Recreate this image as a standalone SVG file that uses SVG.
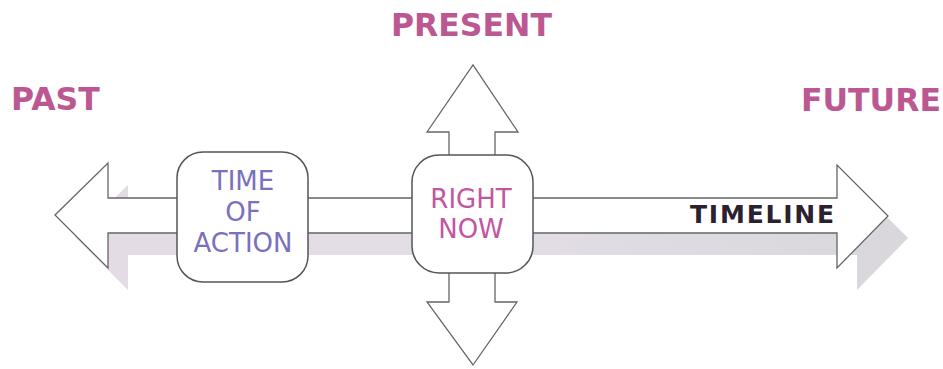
<svg xmlns="http://www.w3.org/2000/svg" width="943" height="369" viewBox="0 0 943 369">
<defs>
<style>
.title{font-family:"DejaVu Sans",Verdana,sans-serif;font-weight:bold;font-size:31.5px;fill:#bb5892}
.outline{fill:#ffffff;stroke:#666;stroke-width:1.3;stroke-linejoin:miter}
.box{fill:#ffffff;stroke:#555;stroke-width:1.5}
.lbl{font-family:"DejaVu Sans",Verdana,sans-serif;font-size:26px;text-anchor:middle}
</style>
<linearGradient id="sg" x1="0" y1="0" x2="1" y2="0">
<stop offset="0" stop-color="#e4dbe4"/>
<stop offset="0.5" stop-color="#e3dee6"/>
<stop offset="1" stop-color="#d9d6dc"/>
</linearGradient>
</defs>
<g id="titles">
<text class="title" x="11" y="110">PAST</text>
<text class="title" x="391" y="36">PRESENT</text>
<text class="title" x="801" y="111">FUTURE</text>
</g>
<g id="connectors">
<polygon id="timeline-shadow" fill="url(#sg)" points="75,237 128,185 128,220 857,220 857,187 908,238 857,290 857,255 128,255 128,290"/>
<polygon id="timeline" class="outline" points="55,215 108,163 108,198 837,198 837,165 888,216 837,268 837,233 108,233 108,268"/>
<polygon id="up-arrow" class="outline" points="449,162 449,132 427,132 473,65 518,132 495,132 495,162"/>
<polygon id="down-arrow" class="outline" points="449,266 449,302 427,302 473,365 517,302 495,302 495,266"/>
<text x="690" y="223" font-family="DejaVu Sans,Verdana,sans-serif" font-weight="bold" font-size="25" letter-spacing="1.8" fill="#2b2230">TIMELINE</text>
</g>
<g id="time-of-action">
<rect class="box" x="177" y="152" width="131" height="130" rx="26"/>
<text class="lbl" fill="#7b70bd" x="243" y="190">TIME</text>
<text class="lbl" fill="#7b70bd" x="243" y="221">OF</text>
<text class="lbl" fill="#7b70bd" x="243" y="252">ACTION</text>
</g>
<g id="right-now">
<rect class="box" x="412" y="155" width="121" height="118" rx="27"/>
<text class="lbl" fill="#c2569f" x="471" y="208">RIGHT</text>
<text class="lbl" fill="#c2569f" x="471" y="238">NOW</text>
</g>
</svg>
